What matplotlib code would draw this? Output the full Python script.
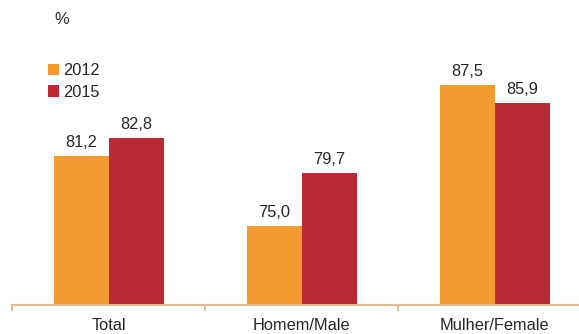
import matplotlib
matplotlib.use("Agg")
import matplotlib.pyplot as plt
import numpy as np

categories = ["Total", "Homem/Male", "Mulher/Female"]
series_names = ["2012", "2015"]
values_2012 = [81.2, 75.0, 87.5]
values_2015 = [82.8, 79.7, 85.9]
colors = ["#f39a30", "#bb2933"]
axis_color = "#dfbb8e"
text_color = "#262626"

plt.rcParams["font.family"] = ["Liberation Sans", "DejaVu Sans"]
FS = 11.8

W, H = 579, 334
fig = plt.figure(figsize=(W / 100, H / 100), dpi=100)
left_px, base_px = 12, 304.5
ax = fig.add_axes([left_px / W, (H - base_px) / H, (W - left_px) / W, base_px / H])

ppu = 11.28  # pixels per unit
ymin = 68.0
cat_w = 193.0

x = np.arange(len(categories))
bw = 55.0 / cat_w
for i, (name, vals) in enumerate(zip(series_names, [values_2012, values_2015])):
    off = (i - 0.5) * bw
    ax.bar(x + off, np.array(vals) - ymin, bw, bottom=ymin, color=colors[i],
           label=name, linewidth=0)
    for xi, v in zip(x + off, vals):
        ax.annotate(f"{v:.1f}".replace(".", ","), (xi, v), xytext=(0, 9),
                    textcoords="offset pixels", ha="center", va="baseline",
                    fontsize=FS, color=text_color)

for s in ["top", "right", "left"]:
    ax.spines[s].set_visible(False)
ax.spines["bottom"].set_color(axis_color)
ax.spines["bottom"].set_linewidth(1.5)
ax.set_yticks([])

ax.set_xticks(np.arange(-0.5, 3.0, 1.0))
ax.set_xticklabels([])
ax.tick_params(axis="x", which="major", length=4.5, width=1.5, color=axis_color)
ax.set_xticks(x, minor=True)
ax.set_xticklabels(categories, minor=True, fontsize=FS, color=text_color)
ax.tick_params(axis="x", which="minor", length=0, pad=9.5)

# limits set after ticks so they are not expanded
ax.set_xlim(-0.5, -0.5 + (W - left_px) / cat_w)
ax.set_ylim(ymin, ymin + base_px / ppu)

leg = ax.legend(loc="upper left", bbox_to_anchor=(48 / W, 1 - 63 / H),
                bbox_transform=fig.transFigure, frameon=False, fontsize=FS,
                handlelength=0.7, handleheight=0.7, handletextpad=0.25,
                labelspacing=0.42, borderpad=0, borderaxespad=0)
for t in leg.get_texts():
    t.set_color(text_color)

fig.text(62 / W, 1 - 20 / H, "%", ha="center", va="center", fontsize=FS, color=text_color)

fig.savefig("out.png", dpi=100)
